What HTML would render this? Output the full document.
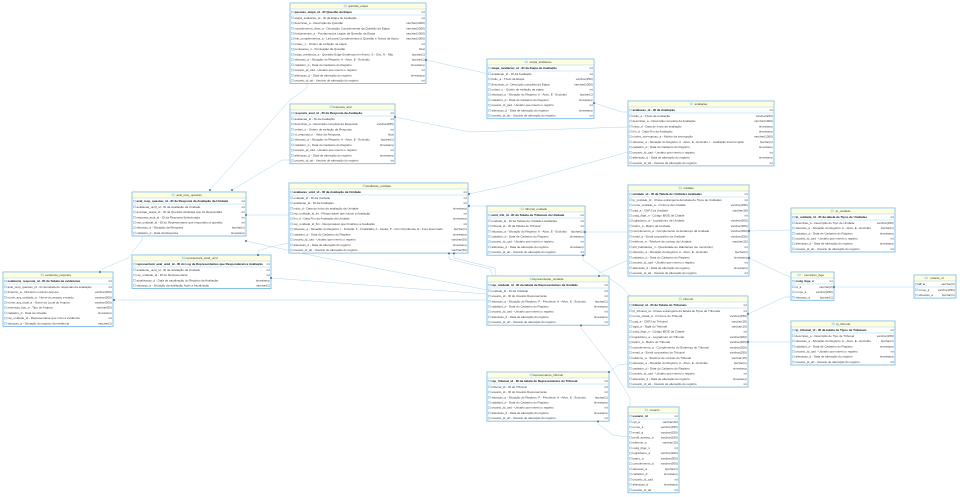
<!DOCTYPE html>
<html><head><meta charset="utf-8"><style>
html,body{margin:0;padding:0;background:#fff}
svg{display:block}
.t{font-family:"Liberation Sans",sans-serif;font-size:3px;fill:#3a3a3a}
.k{font-weight:bold;fill:#111}
.r{text-anchor:end}
.c{text-anchor:middle}
.bx{fill:#fff;stroke:#6db3e2;stroke-width:0.8}
.hd{fill:#fdfde0}
.sp{stroke:#8fc3e6;stroke-width:0.4}
.ln{fill:none;stroke:#a9d5f0;stroke-width:0.5}
.mk{fill:#2b5b86}
.ic{fill:#e6f2fb;stroke:#6aa6d6;stroke-width:0.3}
</style></head><body>
<svg width="960" height="497" viewBox="0 0 960 497" xmlns="http://www.w3.org/2000/svg">
<defs>
<pattern id="ic" patternUnits="userSpaceOnUse" x="0" y="12.2" width="5" height="5.23"><rect class="ic" x="1.2" y="1.6" width="2.4" height="1.9"/></pattern>
</defs>

<!-- connectors -->
<g class="ln">
<polyline points="426,60 480,72 487,74"/>
<polyline points="594,103 622,112 628,112"/>
<polyline points="395,117 470,132 628,127"/>
<polyline points="469,194 510,185 628,152"/>
<polyline points="469,206 487,206"/>
<polyline points="585,232 628,232"/>
<polyline points="210,190 290,100 307,88 307,83"/>
<polyline points="232,190 282,160 290,160"/>
<polyline points="246,215 289,215"/>
<polyline points="246,241 305,254 487,290"/>
<polyline points="100,272 100,270 128,258 142,240 142,236"/>
<polyline points="114,300 487,300"/>
<polyline points="258,255 258,251 270,247 289,243"/>
<polyline points="271,278 487,294"/>
<polyline points="449,253 449,259 490,269 493,276"/>
<polyline points="454,253 454,258 495,268 496,276"/>
<polyline points="583,255 583,260 622,287 630,296"/>
<polyline points="599,276 599,273 628,260"/>
<polyline points="581,325 581,328 610,365 630,398 630,407"/>
<polyline points="609,372 618,365 628,364"/>
<polyline points="598,421 598,424 613,435 628,437"/>
<polyline points="749,231 791,230"/>
<polyline points="749,258 785,275 791,277"/>
<polyline points="748,314 785,297 791,297"/>
<polyline points="748,342 791,342"/>
<polyline points="834,287 914,287"/>
</g>

<!-- questao_etapa -->
<g transform="translate(290,3)">
<rect class="bx" width="136" height="80.6"/>
<rect class="hd" x="0.4" y="0.4" width="135.2" height="5.6"/>
<line class="sp" x1="0" y1="6" x2="136" y2="6"/>
<rect class="ic" x="54" y="2" width="2.4" height="1.9"/>
<text class="t c" x="68" y="4.1">questao_etapa</text>
<rect class="ic" x="1.2" y="8.1" width="2.4" height="1.9"/>
<text class="t k" x="4.5" y="10.1">questao_etapa_id - ID Questão da Etapa</text><text class="t r" x="134.8" y="10.1">int</text>
<line class="sp" x1="0" y1="12" x2="136" y2="12"/>
<rect x="0" y="12.2" width="4" height="68" fill="url(#ic)"/>
<text class="t" x="4.5" y="15.8">etapa_avaliacao_id - ID da Etapa de Avaliação</text><text class="t r" x="134.8" y="15.8">int</text>
<text class="t" x="4.5" y="21">descricao_a - Descrição da Questão</text><text class="t r" x="134.8" y="21">varchar(1000)</text>
<text class="t" x="4.5" y="26.3">complemento_desc_a - Descrição Complementar da Questão da Etapa</text><text class="t r" x="134.8" y="26.3">varchar(1000)</text>
<text class="t" x="4.5" y="31.5">fundamentos_a - Fundamentos Legais da Questão da Etapa</text><text class="t r" x="134.8" y="31.5">varchar(1000)</text>
<text class="t" x="4.5" y="36.7">link_complementos_a - Link para Complementos à Questão e Textos de Apoio</text><text class="t r" x="134.8" y="36.7">varchar(1000)</text>
<text class="t" x="4.5" y="42">ordem_v - Ordem de exibição na etapa</text><text class="t r" x="134.8" y="42">int</text>
<text class="t" x="4.5" y="47.2">pontuacao_n - Pontuação da Questão</text><text class="t r" x="134.8" y="47.2">float</text>
<text class="t" x="4.5" y="52.4">exige_evidencia_a - Questão Exige Evidência em Anexo: S - Sim, N - Não</text><text class="t r" x="134.8" y="52.4">bpchar(1)</text>
<text class="t" x="4.5" y="57.6">situacao_a - Situação do Registro: A - Ativo, E - Excluído</text><text class="t r" x="134.8" y="57.6">bpchar(1)</text>
<text class="t" x="4.5" y="62.9">cadastro_d - Data do Cadastro do Registro</text><text class="t r" x="134.8" y="62.9">timestamp</text>
<text class="t" x="4.5" y="68.1">usuario_id_cad - Usuário que inseriu o registro</text><text class="t r" x="134.8" y="68.1">int</text>
<text class="t" x="4.5" y="73.3">alteracao_d - Data de alteração do registro</text><text class="t r" x="134.8" y="73.3">timestamp</text>
<text class="t" x="4.5" y="78.6">usuario_id_alt - Usuário de alteração do registro</text><text class="t r" x="134.8" y="78.6">int</text>
</g>

<!-- etapa_avaliacao -->
<g transform="translate(487,59)">
<rect class="bx" width="107" height="59.7"/>
<rect class="hd" x="0.4" y="0.4" width="106.2" height="5.6"/>
<line class="sp" x1="0" y1="6" x2="107" y2="6"/>
<rect class="ic" x="38" y="2" width="2.4" height="1.9"/>
<text class="t c" x="53.5" y="4.1">etapa_avaliacao</text>
<rect class="ic" x="1.2" y="8.1" width="2.4" height="1.9"/>
<text class="t k" x="4.5" y="10.1">etapa_avaliacao_id - ID da Etapa de Avaliação</text><text class="t r" x="105.8" y="10.1">int</text>
<line class="sp" x1="0" y1="12" x2="107" y2="12"/>
<rect x="0" y="12.2" width="4" height="47" fill="url(#ic)"/>
<text class="t" x="4.5" y="15.8">avaliacao_id - ID da Avaliação</text><text class="t r" x="105.8" y="15.8">int</text>
<text class="t" x="4.5" y="21">titulo_a - Título da Etapa</text><text class="t r" x="105.8" y="21">varchar(250)</text>
<text class="t" x="4.5" y="26.3">descricao_a - Descrição completa da Etapa</text><text class="t r" x="105.8" y="26.3">varchar(1000)</text>
<text class="t" x="4.5" y="31.5">ordem_v - Ordem de exibição da etapa</text><text class="t r" x="105.8" y="31.5">int</text>
<text class="t" x="4.5" y="36.7">situacao_a - Situação do Registro: A - Ativo, E - Excluído</text><text class="t r" x="105.8" y="36.7">bpchar(1)</text>
<text class="t" x="4.5" y="42">cadastro_d - Data do Cadastro do Registro</text><text class="t r" x="105.8" y="42">timestamp</text>
<text class="t" x="4.5" y="47.2">usuario_id_cad - Usuário que inseriu o registro</text><text class="t r" x="105.8" y="47.2">int</text>
<text class="t" x="4.5" y="52.4">alteracao_d - Data de alteração do registro</text><text class="t r" x="105.8" y="52.4">timestamp</text>
<text class="t" x="4.5" y="57.6">usuario_id_alt - Usuário de alteração do registro</text><text class="t r" x="105.8" y="57.6">int</text>
</g>

<!-- avaliacao -->
<g transform="translate(628,101)">
<rect class="bx" width="146" height="64.9"/>
<rect class="hd" x="0.4" y="0.4" width="145.2" height="5.6"/>
<line class="sp" x1="0" y1="6" x2="146" y2="6"/>
<rect class="ic" x="62" y="2" width="2.4" height="1.9"/>
<text class="t c" x="73" y="4.1">avaliacao</text>
<rect class="ic" x="1.2" y="8.1" width="2.4" height="1.9"/>
<text class="t k" x="4.5" y="10.1">avaliacao_id - ID da Avaliação</text><text class="t r" x="144.8" y="10.1">int</text>
<line class="sp" x1="0" y1="12" x2="146" y2="12"/>
<rect x="0" y="12.2" width="4" height="52.3" fill="url(#ic)"/>
<text class="t" x="4.5" y="15.8">titulo_a - Título da Avaliação</text><text class="t r" x="144.8" y="15.8">varchar(250)</text>
<text class="t" x="4.5" y="21">descricao_a - Descrição completa da Avaliação</text><text class="t r" x="144.8" y="21">varchar(1000)</text>
<text class="t" x="4.5" y="26.3">inicio_d - Data de início da avaliação</text><text class="t r" x="144.8" y="26.3">timestamp</text>
<text class="t" x="4.5" y="31.5">fim_d - Data Fim da Avaliação</text><text class="t r" x="144.8" y="31.5">timestamp</text>
<text class="t" x="4.5" y="36.7">motivo_interrupcao_a - Motivo da interrupção</text><text class="t r" x="144.8" y="36.7">varchar(1000)</text>
<text class="t" x="4.5" y="42">situacao_a - Situação do Registro: A - Ativo, E - Excluído, I - Avaliação Interrompida</text><text class="t r" x="144.8" y="42">bpchar(1)</text>
<text class="t" x="4.5" y="47.2">cadastro_d - Data do Cadastro do Registro</text><text class="t r" x="144.8" y="47.2">timestamp</text>
<text class="t" x="4.5" y="52.4">usuario_id_cad - Usuário que inseriu o registro</text><text class="t r" x="144.8" y="52.4">int</text>
<text class="t" x="4.5" y="57.6">alteracao_d - Data de alteração do registro</text><text class="t r" x="144.8" y="57.6">timestamp</text>
<text class="t" x="4.5" y="62.9">usuario_id_alt - Usuário de alteração do registro</text><text class="t r" x="144.8" y="62.9">int</text>
</g>

<!-- resposta_avul -->
<g transform="translate(290,104)">
<rect class="bx" width="105" height="59.7"/>
<rect class="hd" x="0.4" y="0.4" width="104.2" height="5.6"/>
<line class="sp" x1="0" y1="6" x2="105" y2="6"/>
<rect class="ic" x="40" y="2" width="2.4" height="1.9"/>
<text class="t c" x="52.5" y="4.1">resposta_avul</text>
<rect class="ic" x="1.2" y="8.1" width="2.4" height="1.9"/>
<text class="t k" x="4.5" y="10.1">resposta_avul_id - ID da Resposta da Avaliação</text><text class="t r" x="103.8" y="10.1">int</text>
<line class="sp" x1="0" y1="12" x2="105" y2="12"/>
<rect x="0" y="12.2" width="4" height="47" fill="url(#ic)"/>
<text class="t" x="4.5" y="15.8">avaliacao_id - ID da Avaliação</text><text class="t r" x="103.8" y="15.8">int</text>
<text class="t" x="4.5" y="21">descricao_a - Descrição completa da Resposta</text><text class="t r" x="103.8" y="21">varchar(250)</text>
<text class="t" x="4.5" y="26.3">ordem_v - Ordem de exibição da Resposta</text><text class="t r" x="103.8" y="26.3">int</text>
<text class="t" x="4.5" y="31.5">vl_resposta_n - Valor da Resposta</text><text class="t r" x="103.8" y="31.5">float</text>
<text class="t" x="4.5" y="36.7">situacao_a - Situação do Registro: A - Ativo, E - Excluído</text><text class="t r" x="103.8" y="36.7">bpchar(1)</text>
<text class="t" x="4.5" y="42">cadastro_d - Data do Cadastro do Registro</text><text class="t r" x="103.8" y="42">timestamp</text>
<text class="t" x="4.5" y="47.2">usuario_id_cad - Usuário que inseriu o registro</text><text class="t r" x="103.8" y="47.2">int</text>
<text class="t" x="4.5" y="52.4">alteracao_d - Data de alteração do registro</text><text class="t r" x="103.8" y="52.4">timestamp</text>
<text class="t" x="4.5" y="57.6">usuario_id_alt - Usuário de alteração do registro</text><text class="t r" x="103.8" y="57.6">int</text>
</g>

<!-- aval_resp_questao -->
<g transform="translate(132,192)">
<rect class="bx" width="114" height="44"/>
<rect class="hd" x="0.4" y="0.4" width="113.2" height="5.6"/>
<line class="sp" x1="0" y1="6" x2="114" y2="6"/>
<rect class="ic" x="40" y="2" width="2.4" height="1.9"/>
<text class="t c" x="57" y="4.1">aval_resp_questao</text>
<rect class="ic" x="1.2" y="8.1" width="2.4" height="1.9"/>
<text class="t k" x="4.5" y="10.1">aval_resp_questao_id - ID da Resposta da Avaliação da Unidade</text><text class="t r" x="112.8" y="10.1">int</text>
<line class="sp" x1="0" y1="12" x2="114" y2="12"/>
<rect x="0" y="12.2" width="4" height="31.4" fill="url(#ic)"/>
<text class="t" x="4.5" y="15.8">avaliacao_unid_id - ID da Avaliação da Unidade</text><text class="t r" x="112.8" y="15.8">int</text>
<text class="t" x="4.5" y="21">questao_etapa_id - ID da Questão da Etapa que foi Respondida</text><text class="t r" x="112.8" y="21">int</text>
<text class="t" x="4.5" y="26.3">resposta_avul_id - ID da Resposta Selecionada</text><text class="t r" x="112.8" y="26.3">int</text>
<text class="t" x="4.5" y="31.5">rep_unidade_id - ID do Representante que respondeu a questão</text><text class="t r" x="112.8" y="31.5">int</text>
<text class="t" x="4.5" y="36.7">situacao_a - Situação da Resposta</text><text class="t r" x="112.8" y="36.7">bpchar(1)</text>
<text class="t" x="4.5" y="42">cadastro_d - Data da Resposta</text><text class="t r" x="112.8" y="42">timestamp</text>
</g>

<!-- avaliacao_unidade -->
<g transform="translate(289,183)">
<rect class="bx" width="179" height="70.1"/>
<rect class="hd" x="0.4" y="0.4" width="178.2" height="5.6"/>
<line class="sp" x1="0" y1="6" x2="179" y2="6"/>
<rect class="ic" x="74" y="2" width="2.4" height="1.9"/>
<text class="t c" x="89.5" y="4.1">avaliacao_unidade</text>
<rect class="ic" x="1.2" y="8.1" width="2.4" height="1.9"/>
<text class="t k" x="4.5" y="10.1">avaliacao_unid_id - ID da Avaliação da Unidade</text><text class="t r" x="177.8" y="10.1">int</text>
<line class="sp" x1="0" y1="12" x2="179" y2="12"/>
<rect x="0" y="12.2" width="4" height="57.5" fill="url(#ic)"/>
<text class="t" x="4.5" y="15.8">unidade_id - ID da Unidade</text><text class="t r" x="177.8" y="15.8">int</text>
<text class="t" x="4.5" y="21">avaliacao_id - ID da Avaliação</text><text class="t r" x="177.8" y="21">int</text>
<text class="t" x="4.5" y="26.3">inicio_d - Data de início da avaliação da Unidade</text><text class="t r" x="177.8" y="26.3">timestamp</text>
<text class="t" x="4.5" y="31.5">rep_unidade_id_ini - Responsável que iniciou a Avaliação</text><text class="t r" x="177.8" y="31.5">int</text>
<text class="t" x="4.5" y="36.7">fim_d - Data Fim da Avaliação da Unidade</text><text class="t r" x="177.8" y="36.7">timestamp</text>
<text class="t" x="4.5" y="42">rep_unidade_id_fim - Responsável que Finalizou a Avaliação</text><text class="t r" x="177.8" y="42">int</text>
<text class="t" x="4.5" y="47.2">situacao_a - Situação do Registro: I - Iniciada, F - Finalizada, A - Aceita, P - Com Pendência, E - Foro Encerrado</text><text class="t r" x="177.8" y="47.2">bpchar(1)</text>
<text class="t" x="4.5" y="52.4">cadastro_d - Data do Cadastro do Registro</text><text class="t r" x="177.8" y="52.4">timestamp</text>
<text class="t" x="4.5" y="57.6">usuario_id_cad - Usuário que inseriu o registro</text><text class="t r" x="177.8" y="57.6">varchar(50)</text>
<text class="t" x="4.5" y="62.9">alteracao_d - Data de alteração do registro</text><text class="t r" x="177.8" y="62.9">timestamp</text>
<text class="t" x="4.5" y="68.1">usuario_id_alt - Usuário de alteração do registro</text><text class="t r" x="177.8" y="68.1">varchar(50)</text>
</g>

<!-- tribunal_unidade -->
<g transform="translate(487,206)">
<rect class="bx" width="98" height="49.2"/>
<rect class="hd" x="0.4" y="0.4" width="97.2" height="5.6"/>
<line class="sp" x1="0" y1="6" x2="98" y2="6"/>
<rect class="ic" x="34" y="2" width="2.4" height="1.9"/>
<text class="t c" x="49" y="4.1">tribunal_unidade</text>
<rect class="ic" x="1.2" y="8.1" width="2.4" height="1.9"/>
<text class="t k" x="4.5" y="10.1">unid_trib_id - ID da Tabela de Tribunais da Unidade</text><text class="t r" x="96.8" y="10.1">int</text>
<line class="sp" x1="0" y1="12" x2="98" y2="12"/>
<rect x="0" y="12.2" width="4" height="36.6" fill="url(#ic)"/>
<text class="t" x="4.5" y="15.8">unidade_id - ID da Tabela de Unidades Avaliadas</text><text class="t r" x="96.8" y="15.8">int</text>
<text class="t" x="4.5" y="21">tribunal_id - ID da Tabela do Tribunal</text><text class="t r" x="96.8" y="21">int</text>
<text class="t" x="4.5" y="26.3">situacao_a - Situação do Registro: A - Ativo, E - Excluído</text><text class="t r" x="96.8" y="26.3">bpchar(1)</text>
<text class="t" x="4.5" y="31.5">cadastro_d - Data de Cadastro do Registro</text><text class="t r" x="96.8" y="31.5">timestamp</text>
<text class="t" x="4.5" y="36.7">usuario_id_cad - Usuário que inseriu o registro</text><text class="t r" x="96.8" y="36.7">int</text>
<text class="t" x="4.5" y="42">alteracao_d - Data de alteração do registro</text><text class="t r" x="96.8" y="42">timestamp</text>
<text class="t" x="4.5" y="47.2">usuario_id_alt - Usuário de alteração do registro</text><text class="t r" x="96.8" y="47.2">int</text>
</g>

<!-- unidade -->
<g transform="translate(628,185)">
<rect class="bx" width="121" height="91.1"/>
<rect class="hd" x="0.4" y="0.4" width="120.2" height="5.6"/>
<line class="sp" x1="0" y1="6" x2="121" y2="6"/>
<rect class="ic" x="51" y="2" width="2.4" height="1.9"/>
<text class="t c" x="60.5" y="4.1">unidade</text>
<rect class="ic" x="1.2" y="8.1" width="2.4" height="1.9"/>
<text class="t k" x="4.5" y="10.1">unidade_id - ID da Tabela de Unidades Avaliadas</text><text class="t r" x="119.8" y="10.1">int</text>
<line class="sp" x1="0" y1="12" x2="121" y2="12"/>
<rect x="0" y="12.2" width="4" height="78.5" fill="url(#ic)"/>
<text class="t" x="4.5" y="15.8">tp_unidade_id - Chave estrangeira da tabela de Tipos de Unidades</text><text class="t r" x="119.8" y="15.8">int</text>
<text class="t" x="4.5" y="21">nome_unidade_a - O Nome da Unidade</text><text class="t r" x="119.8" y="21">varchar(250)</text>
<text class="t" x="4.5" y="26.3">cnpj_a - CNPJ da Unidade</text><text class="t r" x="119.8" y="26.3">varchar(18)</text>
<text class="t" x="4.5" y="31.5">codg_ibge_n - Código IBGE da Cidade</text><text class="t r" x="119.8" y="31.5">int</text>
<text class="t" x="4.5" y="36.7">logradouro_a - Logradouro da Unidade</text><text class="t r" x="119.8" y="36.7">varchar(300)</text>
<text class="t" x="4.5" y="42">bairro_a - Bairro da Unidade</text><text class="t r" x="119.8" y="42">varchar(300)</text>
<text class="t" x="4.5" y="47.2">complemento_a - Complemento do Endereço da Unidade</text><text class="t r" x="119.8" y="47.2">varchar(300)</text>
<text class="t" x="4.5" y="52.4">email_a - Email corporativo da Unidade</text><text class="t r" x="119.8" y="52.4">varchar(250)</text>
<text class="t" x="4.5" y="57.6">telefone_a - Telefone de contato da Unidade</text><text class="t r" x="119.8" y="57.6">varchar(15)</text>
<text class="t" x="4.5" y="62.9">qtd_habitantes_n - Quantidade de Habitantes (se município)</text><text class="t r" x="119.8" y="62.9">int</text>
<text class="t" x="4.5" y="68.1">situacao_a - Situação do Registro: A - Ativo, E - Excluído</text><text class="t r" x="119.8" y="68.1">bpchar(1)</text>
<text class="t" x="4.5" y="73.3">cadastro_d - Data do Cadastro do Registro</text><text class="t r" x="119.8" y="73.3">timestamp</text>
<text class="t" x="4.5" y="78.6">usuario_id_cad - Usuário que inseriu o registro</text><text class="t r" x="119.8" y="78.6">int</text>
<text class="t" x="4.5" y="83.8">alteracao_d - Data de alteração do registro</text><text class="t r" x="119.8" y="83.8">timestamp</text>
<text class="t" x="4.5" y="89">usuario_id_alt - Usuário de alteração do registro</text><text class="t r" x="119.8" y="89">int</text>
</g>

<!-- tp_unidade -->
<g transform="translate(791,208)">
<rect class="bx" width="104" height="44"/>
<rect class="hd" x="0.4" y="0.4" width="103.2" height="5.6"/>
<line class="sp" x1="0" y1="6" x2="104" y2="6"/>
<rect class="ic" x="40" y="2" width="2.4" height="1.9"/>
<text class="t c" x="52" y="4.1">tp_unidade</text>
<rect class="ic" x="1.2" y="8.1" width="2.4" height="1.9"/>
<text class="t k" x="4.5" y="10.1">tp_unidade_id - ID da tabela de Tipos de Unidades</text><text class="t r" x="102.8" y="10.1">int</text>
<line class="sp" x1="0" y1="12" x2="104" y2="12"/>
<rect x="0" y="12.2" width="4" height="31.4" fill="url(#ic)"/>
<text class="t" x="4.5" y="15.8">descricao_a - Descrição do Tipo de Unidade</text><text class="t r" x="102.8" y="15.8">varchar(250)</text>
<text class="t" x="4.5" y="21">situacao_a - Situação do Registro: A - Ativo, E - Excluído</text><text class="t r" x="102.8" y="21">bpchar(1)</text>
<text class="t" x="4.5" y="26.3">cadastro_d - Data de Cadastro do Registro</text><text class="t r" x="102.8" y="26.3">timestamp</text>
<text class="t" x="4.5" y="31.5">usuario_id_cad - Usuário que inseriu o registro</text><text class="t r" x="102.8" y="31.5">int</text>
<text class="t" x="4.5" y="36.7">alteracao_d - Data de alteração do registro</text><text class="t r" x="102.8" y="36.7">timestamp</text>
<text class="t" x="4.5" y="42">usuario_id_alt - Usuário de alteração do registro</text><text class="t r" x="102.8" y="42">int</text>
</g>

<!-- municipio_ibge -->
<g transform="translate(791,272)">
<rect class="bx" width="43" height="28.3"/>
<rect class="hd" x="0.4" y="0.4" width="42.2" height="5.6"/>
<line class="sp" x1="0" y1="6" x2="43" y2="6"/>
<rect class="ic" x="7" y="2" width="2.4" height="1.9"/>
<text class="t c" x="23" y="4.1">municipio_ibge</text>
<rect class="ic" x="1.2" y="8.1" width="2.4" height="1.9"/>
<text class="t k" x="4.5" y="10.1">codg_ibge_n</text><text class="t r" x="41.8" y="10.1">int</text>
<line class="sp" x1="0" y1="12" x2="43" y2="12"/>
<rect x="0" y="12.2" width="4" height="15.7" fill="url(#ic)"/>
<text class="t" x="4.5" y="15.8">uf_a</text><text class="t r" x="41.8" y="15.8">varchar(2)</text>
<text class="t" x="4.5" y="21">nome_a</text><text class="t r" x="41.8" y="21">varchar(250)</text>
<text class="t" x="4.5" y="26.3">situacao_a</text><text class="t r" x="41.8" y="26.3">bpchar(1)</text>
</g>

<!-- estado_uf -->
<g transform="translate(914,275)">
<rect class="bx" width="42" height="23.1"/>
<rect class="hd" x="0.4" y="0.4" width="41.2" height="5.6"/>
<line class="sp" x1="0" y1="6" x2="42" y2="6"/>
<rect class="ic" x="11" y="2" width="2.4" height="1.9"/>
<text class="t c" x="23" y="4.1">estado_uf</text>
<rect class="ic" x="1.2" y="8.1" width="2.4" height="1.9"/>
<text class="t k" x="4.5" y="10.1">uf_a</text><text class="t r" x="40.8" y="10.1">varchar(2)</text>
<line class="sp" x1="0" y1="12" x2="42" y2="12"/>
<rect x="0" y="12.2" width="4" height="10.5" fill="url(#ic)"/>
<text class="t" x="4.5" y="15.8">nome_a</text><text class="t r" x="40.8" y="15.8">varchar(250)</text>
<text class="t" x="4.5" y="21">situacao_a</text><text class="t r" x="40.8" y="21">bpchar(1)</text>
</g>

<!-- representant_avali_unid -->
<g transform="translate(132,255)">
<rect class="bx" width="139" height="33.5"/>
<rect class="hd" x="0.4" y="0.4" width="138.2" height="5.6"/>
<line class="sp" x1="0" y1="6" x2="139" y2="6"/>
<rect class="ic" x="50" y="2" width="2.4" height="1.9"/>
<text class="t c" x="69.5" y="4.1">representant_avali_unid</text>
<rect class="ic" x="1.2" y="8.1" width="2.4" height="1.9"/>
<text class="t k" x="4.5" y="10.1">representant_aval_unid_id - ID do Log de Representantes que Responderam a Avaliação</text><text class="t r" x="137.8" y="10.1">int</text>
<line class="sp" x1="0" y1="12" x2="139" y2="12"/>
<rect x="0" y="12.2" width="4" height="21" fill="url(#ic)"/>
<text class="t" x="4.5" y="15.8">avaliacao_unid_id - ID da avaliação da Unidade</text><text class="t r" x="137.8" y="15.8">int</text>
<text class="t" x="4.5" y="21">rep_unidade_id - ID do Representante</text><text class="t r" x="137.8" y="21">int</text>
<text class="t" x="4.5" y="26.3">atualizacao_d - Data de atualização do Registro da Avaliação</text><text class="t r" x="137.8" y="26.3">timestamp</text>
<text class="t" x="4.5" y="31.5">situacao_a - Situação da avaliação Após a Atualização</text><text class="t r" x="137.8" y="31.5">varchar(1)</text>
</g>

<!-- evidencia_resposta -->
<g transform="translate(3,272)">
<rect class="bx" width="110" height="54.4"/>
<rect class="hd" x="0.4" y="0.4" width="109.2" height="5.6"/>
<line class="sp" x1="0" y1="6" x2="110" y2="6"/>
<rect class="ic" x="38" y="2" width="2.4" height="1.9"/>
<text class="t c" x="55" y="4.1">evidencia_resposta</text>
<rect class="ic" x="1.2" y="8.1" width="2.4" height="1.9"/>
<text class="t k" x="4.5" y="10.1">evidencia_resposta_id - ID da Tabela de evidências</text><text class="t r" x="108.8" y="10.1">int</text>
<line class="sp" x1="0" y1="12" x2="110" y2="12"/>
<rect x="0" y="12.2" width="4" height="41.8" fill="url(#ic)"/>
<text class="t" x="4.5" y="15.8">aval_resp_questao_id - ID da tabela de respostas da avaliação</text><text class="t r" x="108.8" y="15.8">int</text>
<text class="t" x="4.5" y="21">diretorio_a - Diretório Local do Arquivo</text><text class="t r" x="108.8" y="21">varchar(300)</text>
<text class="t" x="4.5" y="26.3">nome_arq_unidade_a - Nome do arquivo enviado</text><text class="t r" x="108.8" y="26.3">varchar(300)</text>
<text class="t" x="4.5" y="31.5">nome_arq_local_a - Nome do Local do Arquivo</text><text class="t r" x="108.8" y="31.5">varchar(300)</text>
<text class="t" x="4.5" y="36.7">extensao_tipo_a - Tipo do Arquivo</text><text class="t r" x="108.8" y="36.7">varchar(50)</text>
<text class="t" x="4.5" y="42">cadastro_d - Data de Criação</text><text class="t r" x="108.8" y="42">timestamp</text>
<text class="t" x="4.5" y="47.2">rep_unidade_id - Representante que criou a evidência</text><text class="t r" x="108.8" y="47.2">int</text>
<text class="t" x="4.5" y="52.4">situacao_a - Situação do registro da evidência</text><text class="t r" x="108.8" y="52.4">varchar(1)</text>
</g>

<!-- representante_unidade -->
<g transform="translate(487,276)">
<rect class="bx" width="122" height="49.2"/>
<rect class="hd" x="0.4" y="0.4" width="121.2" height="5.6"/>
<line class="sp" x1="0" y1="6" x2="122" y2="6"/>
<rect class="ic" x="43" y="2" width="2.4" height="1.9"/>
<text class="t c" x="61" y="4.1">representante_unidade</text>
<rect class="ic" x="1.2" y="8.1" width="2.4" height="1.9"/>
<text class="t k" x="4.5" y="10.1">rep_unidade_id - ID da tabela de Representantes da Unidade</text><text class="t r" x="120.8" y="10.1">int</text>
<line class="sp" x1="0" y1="12" x2="122" y2="12"/>
<rect x="0" y="12.2" width="4" height="36.6" fill="url(#ic)"/>
<text class="t" x="4.5" y="15.8">unidade_id - ID da Unidade</text><text class="t r" x="120.8" y="15.8">int</text>
<text class="t" x="4.5" y="21">usuario_id - ID do Usuário Representante</text><text class="t r" x="120.8" y="21">int</text>
<text class="t" x="4.5" y="26.3">situacao_a - Situação do Registro: P - Pendente, A - Ativo, E - Excluído</text><text class="t r" x="120.8" y="26.3">bpchar(1)</text>
<text class="t" x="4.5" y="31.5">cadastro_d - Data do Cadastro do Registro</text><text class="t r" x="120.8" y="31.5">timestamp</text>
<text class="t" x="4.5" y="36.7">usuario_id_cad - Usuário que inseriu o registro</text><text class="t r" x="120.8" y="36.7">int</text>
<text class="t" x="4.5" y="42">alteracao_d - Data de alteração do registro</text><text class="t r" x="120.8" y="42">timestamp</text>
<text class="t" x="4.5" y="47.2">usuario_id_alt - Usuário de alteração do registro</text><text class="t r" x="120.8" y="47.2">int</text>
</g>

<!-- tribunal -->
<g transform="translate(628,296)">
<rect class="bx" width="120" height="91.1"/>
<rect class="hd" x="0.4" y="0.4" width="119.2" height="5.6"/>
<line class="sp" x1="0" y1="6" x2="120" y2="6"/>
<rect class="ic" x="51" y="2" width="2.4" height="1.9"/>
<text class="t c" x="60" y="4.1">tribunal</text>
<rect class="ic" x="1.2" y="8.1" width="2.4" height="1.9"/>
<text class="t k" x="4.5" y="10.1">tribunal_id - ID da Tabela do Tribunais</text><text class="t r" x="118.8" y="10.1">int</text>
<line class="sp" x1="0" y1="12" x2="120" y2="12"/>
<rect x="0" y="12.2" width="4" height="78.5" fill="url(#ic)"/>
<text class="t" x="4.5" y="15.8">tp_tribunal_id - Chave estrangeira da tabela de Tipos de Tribunais</text><text class="t r" x="118.8" y="15.8">int</text>
<text class="t" x="4.5" y="21">nome_oficial_a - O Nome do Tribunal</text><text class="t r" x="118.8" y="21">varchar(250)</text>
<text class="t" x="4.5" y="26.3">cnpj_a - CNPJ do Tribunal</text><text class="t r" x="118.8" y="26.3">varchar(18)</text>
<text class="t" x="4.5" y="31.5">sigla_a - Sigla do Tribunal</text><text class="t r" x="118.8" y="31.5">varchar(10)</text>
<text class="t" x="4.5" y="36.7">codg_ibge_n - Código IBGE da Cidade</text><text class="t r" x="118.8" y="36.7">int</text>
<text class="t" x="4.5" y="42">logradouro_a - Logradouro do Tribunal</text><text class="t r" x="118.8" y="42">varchar(300)</text>
<text class="t" x="4.5" y="47.2">bairro_a - Bairro do Tribunal</text><text class="t r" x="118.8" y="47.2">varchar(300)</text>
<text class="t" x="4.5" y="52.4">complemento_a - Complemento do Endereço do Tribunal</text><text class="t r" x="118.8" y="52.4">varchar(300)</text>
<text class="t" x="4.5" y="57.6">email_a - Email corporativo do Tribunal</text><text class="t r" x="118.8" y="57.6">varchar(250)</text>
<text class="t" x="4.5" y="62.9">telefone_a - Telefone de contato do Tribunal</text><text class="t r" x="118.8" y="62.9">varchar(15)</text>
<text class="t" x="4.5" y="68.1">situacao_a - Situação do Registro: A - Ativo, E - Excluído</text><text class="t r" x="118.8" y="68.1">bpchar(1)</text>
<text class="t" x="4.5" y="73.3">cadastro_d - Data do Cadastro do Registro</text><text class="t r" x="118.8" y="73.3">timestamp</text>
<text class="t" x="4.5" y="78.6">usuario_id_cad - Usuário que inseriu o registro</text><text class="t r" x="118.8" y="78.6">int</text>
<text class="t" x="4.5" y="83.8">alteracao_d - Data de alteração do registro</text><text class="t r" x="118.8" y="83.8">timestamp</text>
<text class="t" x="4.5" y="89">usuario_id_alt - Usuário de alteração do registro</text><text class="t r" x="118.8" y="89">int</text>
</g>

<!-- tp_tribunal -->
<g transform="translate(791,321)">
<rect class="bx" width="104" height="44"/>
<rect class="hd" x="0.4" y="0.4" width="103.2" height="5.6"/>
<line class="sp" x1="0" y1="6" x2="104" y2="6"/>
<rect class="ic" x="41" y="2" width="2.4" height="1.9"/>
<text class="t c" x="52" y="4.1">tp_tribunal</text>
<rect class="ic" x="1.2" y="8.1" width="2.4" height="1.9"/>
<text class="t k" x="4.5" y="10.1">tp_tribunal_id - ID da tabela de Tipos de Tribunais</text><text class="t r" x="102.8" y="10.1">int</text>
<line class="sp" x1="0" y1="12" x2="104" y2="12"/>
<rect x="0" y="12.2" width="4" height="31.4" fill="url(#ic)"/>
<text class="t" x="4.5" y="15.8">descricao_a - Descrição do Tipo de Tribunal</text><text class="t r" x="102.8" y="15.8">varchar(250)</text>
<text class="t" x="4.5" y="21">situacao_a - Situação do Registro: A - Ativo, E - Excluído</text><text class="t r" x="102.8" y="21">bpchar(1)</text>
<text class="t" x="4.5" y="26.3">cadastro_d - Data de Cadastro do Registro</text><text class="t r" x="102.8" y="26.3">timestamp</text>
<text class="t" x="4.5" y="31.5">usuario_id_cad - Usuário que inseriu o registro</text><text class="t r" x="102.8" y="31.5">int</text>
<text class="t" x="4.5" y="36.7">alteracao_d - Data de alteração do registro</text><text class="t r" x="102.8" y="36.7">timestamp</text>
<text class="t" x="4.5" y="42">usuario_id_alt - Usuário de alteração do registro</text><text class="t r" x="102.8" y="42">int</text>
</g>

<!-- representante_tribunal -->
<g transform="translate(487,372)">
<rect class="bx" width="122" height="49.2"/>
<rect class="hd" x="0.4" y="0.4" width="121.2" height="5.6"/>
<line class="sp" x1="0" y1="6" x2="122" y2="6"/>
<rect class="ic" x="43" y="2" width="2.4" height="1.9"/>
<text class="t c" x="61" y="4.1">representante_tribunal</text>
<rect class="ic" x="1.2" y="8.1" width="2.4" height="1.9"/>
<text class="t k" x="4.5" y="10.1">rep_tribunal_id - ID da tabela de Representantes do Tribunal</text><text class="t r" x="120.8" y="10.1">int</text>
<line class="sp" x1="0" y1="12" x2="122" y2="12"/>
<rect x="0" y="12.2" width="4" height="36.6" fill="url(#ic)"/>
<text class="t" x="4.5" y="15.8">tribunal_id - ID do Tribunal</text><text class="t r" x="120.8" y="15.8">int</text>
<text class="t" x="4.5" y="21">usuario_id - ID do Usuário Representante</text><text class="t r" x="120.8" y="21">int</text>
<text class="t" x="4.5" y="26.3">situacao_a - Situação do Registro: P - Pendente, A - Ativo, E - Excluído</text><text class="t r" x="120.8" y="26.3">bpchar(1)</text>
<text class="t" x="4.5" y="31.5">cadastro_d - Data do Cadastro do Registro</text><text class="t r" x="120.8" y="31.5">timestamp</text>
<text class="t" x="4.5" y="36.7">usuario_id_cad - Usuário que inseriu o registro</text><text class="t r" x="120.8" y="36.7">int</text>
<text class="t" x="4.5" y="42">alteracao_d - Data de alteração do registro</text><text class="t r" x="120.8" y="42">timestamp</text>
<text class="t" x="4.5" y="47.2">usuario_id_alt - Usuário de alteração do registro</text><text class="t r" x="120.8" y="47.2">int</text>
</g>

<!-- usuario -->
<g transform="translate(628,407)">
<rect class="bx" width="51" height="85.8"/>
<rect class="hd" x="0.4" y="0.4" width="50.2" height="5.6"/>
<line class="sp" x1="0" y1="6" x2="51" y2="6"/>
<rect class="ic" x="17" y="2" width="2.4" height="1.9"/>
<text class="t c" x="26.5" y="4.1">usuario</text>
<rect class="ic" x="1.2" y="8.1" width="2.4" height="1.9"/>
<text class="t k" x="4.5" y="10.1">usuario_id</text><text class="t r" x="49.8" y="10.1">int</text>
<line class="sp" x1="0" y1="12" x2="51" y2="12"/>
<rect x="0" y="12.2" width="4" height="73.2" fill="url(#ic)"/>
<text class="t" x="4.5" y="15.8">cpf_a</text><text class="t r" x="49.8" y="15.8">varchar(20)</text>
<text class="t" x="4.5" y="21">nome_a</text><text class="t r" x="49.8" y="21">varchar(250)</text>
<text class="t" x="4.5" y="26.3">email_a</text><text class="t r" x="49.8" y="26.3">varchar(250)</text>
<text class="t" x="4.5" y="31.5">perfil_acesso_a</text><text class="t r" x="49.8" y="31.5">varchar(250)</text>
<text class="t" x="4.5" y="36.7">telefone_a</text><text class="t r" x="49.8" y="36.7">varchar(15)</text>
<text class="t" x="4.5" y="42">codg_ibge_n</text><text class="t r" x="49.8" y="42">int</text>
<text class="t" x="4.5" y="47.2">logradouro_a</text><text class="t r" x="49.8" y="47.2">varchar(300)</text>
<text class="t" x="4.5" y="52.4">bairro_a</text><text class="t r" x="49.8" y="52.4">varchar(300)</text>
<text class="t" x="4.5" y="57.6">complemento_a</text><text class="t r" x="49.8" y="57.6">varchar(300)</text>
<text class="t" x="4.5" y="62.9">situacao_a</text><text class="t r" x="49.8" y="62.9">bpchar(1)</text>
<text class="t" x="4.5" y="68.1">cadastro_d</text><text class="t r" x="49.8" y="68.1">timestamp</text>
<text class="t" x="4.5" y="73.3">usuario_id_cad</text><text class="t r" x="49.8" y="73.3">int</text>
<text class="t" x="4.5" y="78.6">alteracao_d</text><text class="t r" x="49.8" y="78.6">timestamp</text>
<text class="t" x="4.5" y="83.8">usuario_id_alt</text><text class="t r" x="49.8" y="83.8">int</text>
</g>

<!-- markers -->
<g class="mk">
<rect x="425.2" y="59.2" width="1.6" height="1.6"/>
<rect x="593.2" y="102.2" width="1.6" height="1.6"/>
<rect x="394.2" y="116.2" width="1.6" height="1.6"/>
<rect x="468.2" y="193.2" width="1.6" height="1.6"/>
<rect x="468.2" y="205.2" width="1.6" height="1.6"/>
<rect x="584.2" y="231.2" width="1.6" height="1.6"/>
<rect x="209.2" y="189.2" width="1.6" height="1.6"/>
<rect x="231.2" y="189.2" width="1.6" height="1.6"/>
<rect x="245.2" y="214.2" width="1.6" height="1.6"/>
<rect x="245.2" y="240.2" width="1.6" height="1.6"/>
<rect x="99.2" y="271.2" width="1.6" height="1.6"/>
<rect x="113.2" y="299.2" width="1.6" height="1.6"/>
<rect x="257.2" y="254.2" width="1.6" height="1.6"/>
<rect x="270.2" y="277.2" width="1.6" height="1.6"/>
<rect x="448.2" y="252.6" width="1.6" height="1.6"/>
<rect x="453.2" y="252.6" width="1.6" height="1.6"/>
<rect x="582.2" y="254.6" width="1.6" height="1.6"/>
<rect x="598.2" y="275.2" width="1.6" height="1.6"/>
<rect x="580.2" y="324.6" width="1.6" height="1.6"/>
<rect x="608.2" y="371.2" width="1.6" height="1.6"/>
<rect x="597.2" y="420.6" width="1.6" height="1.6"/>
<rect x="748.2" y="230.2" width="1.6" height="1.6"/>
<rect x="748.2" y="257.2" width="1.6" height="1.6"/>
<rect x="747.2" y="313.2" width="1.6" height="1.6"/>
<rect x="747.2" y="341.2" width="1.6" height="1.6"/>
<rect x="833.2" y="286.2" width="1.6" height="1.6"/>
</g>
</svg>
</body></html>
